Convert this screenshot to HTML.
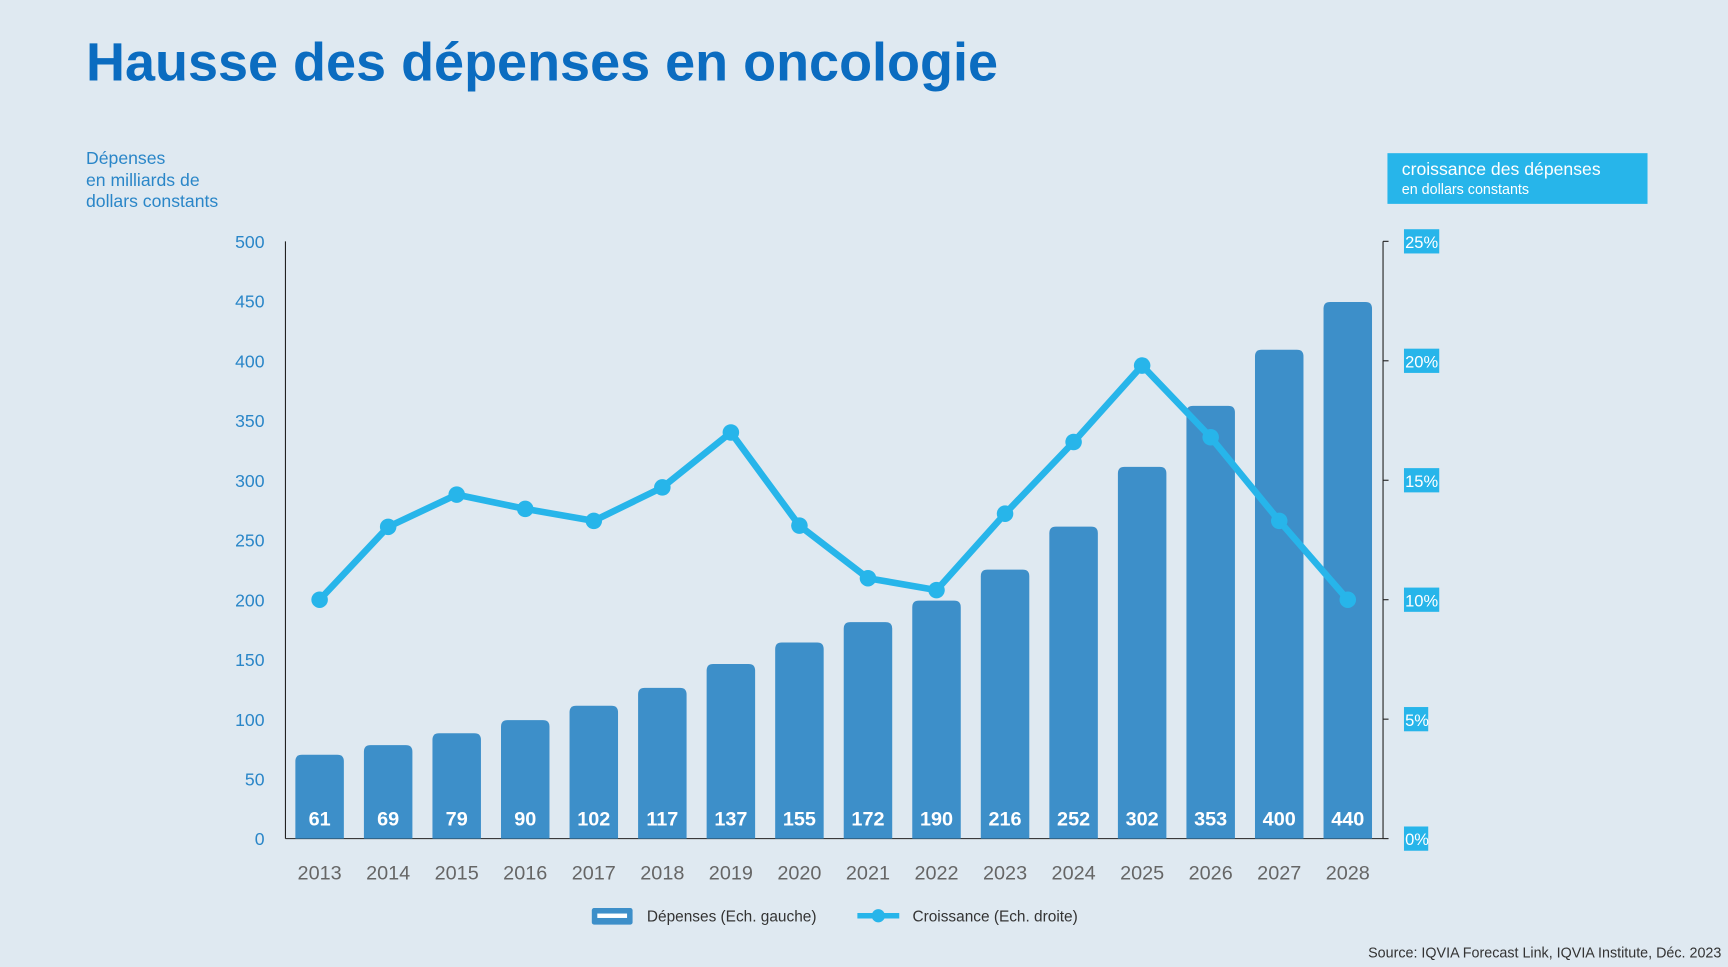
<!DOCTYPE html>
<html><head><meta charset="utf-8"><style>
html,body{margin:0;padding:0;background:#dfe9f1;}
svg{display:block;font-family:"Liberation Sans",sans-serif;}
</style></head><body>
<svg id="c" width="1728" height="967" viewBox="0 0 1568 877.5" xmlns="http://www.w3.org/2000/svg">
<rect width="1568" height="878" fill="#dfe9f1"/>
<text x="78" y="73" font-size="49" font-weight="bold" fill="#0b6cc0">Hausse des dépenses en oncologie</text>
<g fill="#2a86c8" font-size="16">
<text x="78" y="149">Dépenses</text><text x="78" y="169">en milliards de</text><text x="78" y="188">dollars constants</text></g>
<g>
<rect x="1259" y="139" width="236" height="46" fill="#27b5ea"/>
<text x="1272" y="159" font-size="16" fill="#fff">croissance des dépenses</text>
<text x="1272" y="176" font-size="13" fill="#fff">en dollars constants</text></g>
<g id="plot"></g>
<g font-size="14" fill="#333">
<g><rect x="537" y="824" width="37" height="15" rx="2" fill="#3d8fc9"/><rect x="542" y="829" width="27" height="4" fill="#fff"/><text x="587" y="836">Dépenses (Ech. gauche)</text></g>
<g><line x1="778" y1="831" x2="816" y2="831" stroke="#27b5ea" stroke-width="5"/><circle cx="797" cy="831" r="6" fill="#27b5ea"/><text x="828" y="836">Croissance (Ech. droite)</text></g>
</g>
<text x="1562" y="869" text-anchor="end" font-size="13" fill="#333">Source: IQVIA Forecast Link, IQVIA Institute, Déc. 2023</text>
</svg>
<script>
const years=["2013","2014","2015","2016","2017","2018","2019","2020","2021","2022","2023","2024","2025","2026","2027","2028"];
const spending=[61,69,79,90,102,117,137,155,172,190,216,252,302,353,400,440];
const growth=[10.0,13.05,14.4,13.8,13.3,14.7,17.0,13.1,10.9,10.4,13.6,16.6,19.8,16.8,13.3,10.0];
const leftTicks=[0,50,100,150,200,250,300,350,400,450,500];
const rightTicks=[0,5,10,15,20,25];
const NS="http://www.w3.org/2000/svg";
const g=document.getElementById('plot');
const plotTop=219,plotBot=761,L=259,R=1255;
const yL=v=>plotBot-(v/500)*(plotBot-plotTop);
const yR=v=>plotBot-(v/25)*(plotBot-plotTop);
const x=i=>290+i*(1223-290)/(years.length-1);
function mk(t,a,txt){const e=document.createElementNS(NS,t);for(const k in a)e.setAttribute(k,a[k]);if(txt!==undefined)e.textContent=txt;g.appendChild(e);return e;}
let e;
e=mk('line',{x1:L,y1:plotTop,x2:L,y2:plotBot,stroke:'#222','stroke-width':1});


e=mk('line',{x1:R,y1:plotTop,x2:R,y2:plotBot,stroke:'#222','stroke-width':1});


e=mk('line',{x1:L,y1:plotBot,x2:R,y2:plotBot,stroke:'#222','stroke-width':1});


leftTicks.forEach(v=>{
 e=mk('text',{x:240,y:yL(v)+6,'text-anchor':'end','font-size':16,fill:'#2a86c8'},String(v));
 
 
});
rightTicks.forEach(v=>{
 const w=v>=10?32:22;
 e=mk('rect',{x:1274,y:yR(v)-11,width:w,height:22,fill:'#27b5ea'});
 
 
 e=mk('line',{x1:R,y1:yR(v),x2:R+5,y2:yR(v),stroke:'#222'});
 
 
 e=mk('text',{x:1275,y:yR(v)+6,'font-size':15,fill:'#fff'},v+'%');
 
 
});
const bw=44,cap=10;
spending.forEach((v,i)=>{
 const yt=yL(v)-cap;
 e=mk('path',{d:`M${x(i)-bw/2},${plotBot} V${yt+6} Q${x(i)-bw/2},${yt} ${x(i)-bw/2+6},${yt} H${x(i)+bw/2-6} Q${x(i)+bw/2},${yt} ${x(i)+bw/2},${yt+6} V${plotBot} Z`,fill:'#3d8fc9'});
 
 
 e=mk('text',{x:x(i),y:749,'text-anchor':'middle','font-size':18,'font-weight':'bold',fill:'#fff'},String(v));
 
 
 e=mk('text',{x:x(i),y:798,'text-anchor':'middle','font-size':18,fill:'#666'},years[i]);
 
 
});
e=mk('polyline',{points:growth.map((v,i)=>x(i)+','+yR(v)).join(' '),fill:'none',stroke:'#27b5ea','stroke-width':6,'stroke-linejoin':'round'});


growth.forEach((v,i)=>{
 e=mk('circle',{cx:x(i),cy:yR(v),r:7.5,fill:'#27b5ea'});
 
 
});
</script>
</body></html>
